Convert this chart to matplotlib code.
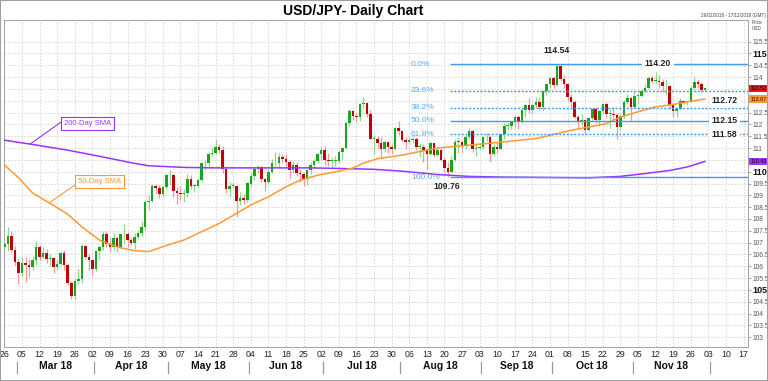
import matplotlib
matplotlib.use("Agg")
import matplotlib.pyplot as plt
import matplotlib.transforms as mtransforms
from matplotlib.lines import Line2D
from matplotlib.patches import Rectangle
import numpy as np

plt.rcParams['font.family'] = ['Liberation Sans', 'DejaVu Sans']

# daily candles, 26 Feb 2018 .. 30 Nov 2018 (index 0 = 26 Feb)
first_open = 106.80
closes = [
    106.95, 107.28, 106.70, 106.20, 105.72,
    106.15, 106.05, 105.95, 106.25, 106.80,
    106.40, 106.55, 106.30, 106.35, 105.95,
    106.10, 106.55, 106.05, 105.28, 104.76,
    105.40, 105.45, 106.85, 106.40, 106.25,
    105.90, 106.65, 106.80, 107.35, 106.95,
    106.80, 107.20, 106.80, 107.35, 107.35,
    107.10, 107.00, 107.25, 107.40, 107.65,
    108.70, 108.75, 109.40, 109.30, 109.05,
    109.35, 109.85, 109.85, 109.20, 109.10,
    109.05, 109.10, 109.70, 109.40, 109.40,
    109.65, 110.35, 110.35, 110.75, 110.80,
    111.05, 110.90, 110.10, 109.25, 109.40,
    109.40, 108.75, 108.90, 108.80, 109.50,
    109.80, 110.10, 110.20, 109.70, 109.55,
    110.00, 110.35, 110.35, 110.60, 110.55,
    110.40, 110.05, 110.30, 109.95, 109.90,
    109.70, 110.05, 110.30, 110.45, 110.75,
    110.90, 110.50, 110.45, 110.45, 110.45,
    110.85, 111.00, 112.05, 112.55, 112.35,
    112.30, 112.85, 112.90, 112.45, 111.40,
    111.40, 111.20, 110.95, 111.25, 111.05,
    110.95, 111.85, 111.70, 111.35, 111.25,
    111.35, 111.40, 111.05, 111.05, 110.90,
    110.75, 111.20, 110.70, 110.90, 110.50,
    110.15, 110.00, 110.50, 111.25, 111.25,
    111.10, 111.45, 111.70, 110.95, 111.00,
    111.05, 111.45, 111.45, 110.75, 111.05,
    110.95, 111.60, 111.95, 111.95, 112.10,
    112.30, 112.10, 112.60, 112.80, 112.60,
    112.80, 112.95, 112.75, 113.40, 113.70,
    113.95, 113.65, 114.45, 113.90, 113.70,
    113.15, 112.95, 112.30, 112.15, 112.20,
    111.75, 112.25, 112.65, 112.20, 112.55,
    112.85, 112.45, 112.45, 112.40, 111.90,
    112.35, 112.95, 113.10, 112.75, 113.20,
    113.20, 113.40, 113.55, 113.95, 113.85,
    113.85, 113.80, 113.60, 113.60, 112.80,
    112.55, 112.65, 113.00, 112.95, 112.95,
    113.55, 113.80, 113.70, 113.45, 113.52,
]
highs = [
    107.10, 107.65, 107.50, 106.85, 106.30,
    106.40, 106.40, 106.30, 106.45, 107.05,
    106.90, 106.80, 106.75, 106.50, 106.40,
    106.25, 106.60, 106.70, 106.10, 105.40,
    105.50, 105.90, 106.95, 106.90, 106.50,
    106.30, 106.70, 106.85, 107.50, 107.50,
    107.25, 107.40, 107.25, 107.40, 107.80,
    107.45, 107.20, 107.40, 107.55, 107.90,
    108.80, 109.00, 109.50, 109.50, 109.45,
    109.45, 109.90, 110.05, 109.90, 109.35,
    109.40, 109.25, 109.90, 109.85, 109.50,
    109.75, 110.40, 110.50, 110.85, 111.05,
    111.40, 111.15, 111.10, 110.25, 109.55,
    109.55, 109.45, 109.15, 109.05, 109.55,
    109.95, 110.20, 110.30, 110.25, 109.75,
    110.10, 110.55, 110.85, 110.80, 110.75,
    110.75, 110.50, 110.45, 110.40, 110.10,
    109.95, 110.10, 110.40, 110.55, 110.80,
    111.05, 111.10, 110.80, 110.60, 110.65,
    110.90, 111.05, 112.10, 112.65, 112.60,
    112.50, 112.90, 113.15, 112.95, 112.60,
    111.55, 111.50, 111.45, 111.30, 111.20,
    111.15, 111.90, 112.15, 111.75, 111.45,
    111.45, 111.50, 111.45, 111.20, 111.15,
    110.95, 111.25, 111.20, 111.00, 110.95,
    110.60, 110.40, 110.65, 111.40, 111.45,
    111.30, 111.55, 111.85, 111.80, 111.20,
    111.20, 111.50, 111.65, 111.55, 111.15,
    111.20, 111.65, 112.05, 112.10, 112.15,
    112.40, 112.40, 112.65, 112.85, 113.10,
    112.85, 113.15, 113.15, 113.45, 113.75,
    113.95, 114.05, 114.54, 114.50, 114.10,
    113.75, 113.30, 113.05, 112.40, 112.45,
    112.20, 112.30, 112.70, 112.75, 112.60,
    112.85, 112.95, 112.65, 112.75, 112.50,
    112.45, 113.05, 113.30, 113.15, 113.40,
    113.30, 113.50, 113.70, 114.05, 114.10,
    114.20, 114.10, 113.90, 113.90, 113.65,
    112.80, 112.75, 113.10, 113.05, 113.00,
    113.60, 114.00, 113.90, 113.80, 113.55,
]
lows = [
    106.55, 106.65, 106.60, 106.05, 105.25,
    105.60, 105.35, 105.55, 105.85, 106.05,
    106.25, 106.35, 106.15, 106.00, 105.70,
    105.85, 106.05, 105.85, 105.20, 104.63,
    104.63, 105.25, 105.30, 106.30, 105.85,
    105.65, 105.80, 106.30, 106.70, 106.80,
    106.60, 106.70, 106.60, 106.75, 107.00,
    106.80, 106.90, 106.75, 107.15, 107.30,
    107.55, 108.40, 108.70, 109.10, 108.90,
    108.95, 109.25, 109.45, 108.95, 108.65,
    108.80, 108.70, 108.95, 109.25, 109.15,
    109.35, 109.60, 110.05, 110.25, 110.65,
    110.75, 110.80, 109.95, 109.10, 108.95,
    109.30, 108.10, 108.60, 108.65, 108.70,
    109.35, 109.65, 109.95, 109.55, 109.20,
    109.50, 109.95, 110.25, 110.20, 110.35,
    110.25, 109.70, 109.95, 109.80, 109.55,
    109.40, 109.45, 109.90, 110.15, 110.35,
    110.50, 110.30, 110.25, 110.20, 110.25,
    110.35, 110.55, 110.95, 111.95, 112.20,
    112.10, 112.15, 112.70, 112.30, 111.40,
    110.75, 111.00, 110.60, 110.85, 110.80,
    110.75, 110.90, 111.55, 111.25, 110.95,
    111.15, 111.20, 110.90, 110.60, 110.40,
    110.10, 110.70, 110.60, 110.65, 110.45,
    110.00, 109.76, 110.00, 110.45, 110.80,
    110.85, 110.95, 111.40, 110.85, 110.65,
    110.95, 110.95, 111.30, 110.40, 110.70,
    110.80, 110.90, 111.40, 111.75, 111.80,
    111.85, 111.80, 112.05, 112.30, 112.50,
    112.45, 112.70, 112.60, 112.55, 113.25,
    113.55, 113.55, 113.60, 113.85, 113.55,
    113.05, 112.75, 112.25, 111.85, 111.95,
    111.60, 111.70, 112.15, 112.05, 111.95,
    112.45, 112.25, 111.85, 112.10, 111.38,
    111.75, 112.25, 112.85, 112.15, 112.70,
    112.85, 113.15, 113.35, 113.50, 113.75,
    113.70, 113.55, 113.35, 113.25, 112.65,
    112.30, 112.30, 112.60, 112.85, 112.80,
    112.95, 113.45, 113.55, 113.35, 113.40,
]

# moving averages (candle index, value)
sma50_idx = [0, 4, 8, 13, 18, 22, 27, 32, 37, 41, 46, 51, 56, 61, 66, 70, 75, 80,
             84, 89, 94, 99, 102, 106, 113, 123, 132, 142, 151, 156, 161, 166,
             171, 175, 180, 185, 190, 194, 199]
sma50_val = [110.28, 109.75, 109.10, 108.66, 108.20, 107.67, 107.11, 106.82, 106.66,
             106.62, 106.88, 107.11, 107.46, 107.81, 108.24, 108.59, 108.94, 109.36,
             109.64, 109.85, 109.99, 110.15, 110.36, 110.55, 110.70, 111.00, 111.12,
             111.26, 111.40, 111.57, 111.75, 111.89, 112.03, 112.31, 112.53, 112.74,
             112.84, 112.95, 113.07]
sma200_idx = [0, 8, 18, 27, 37, 41, 51, 60, 70, 87, 94, 105, 113, 123, 132, 142, 151,
              158, 166, 175, 182, 189, 194, 199]
sma200_val = [111.33, 111.15, 110.91, 110.65, 110.35, 110.25, 110.18, 110.16, 110.16,
              110.16, 110.14, 110.10, 110.02, 109.88, 109.80, 109.77, 109.76, 109.75,
              109.74, 109.80, 109.92, 110.05, 110.20, 110.43]

fib_levels = [114.54, 113.41, 112.71, 112.15, 111.58, 109.76]
fib_names = ['0.0%', '23.6%', '38.2%', '50.0%', '61.8%', '100.0%']
fib_solid = [True, False, False, True, False, True]

day_labels = ['26', '05', '12', '19', '26', '02', '09', '16', '23', '30', '07', '14',
              '21', '28', '04', '11', '18', '25', '02', '09', '16', '23', '30', '06',
              '13', '20', '27', '03', '10', '17', '24', '01', '08', '15', '22', '29',
              '05', '12', '19', '26', '03', '10', '17']
month_names = ['Mar 18', 'Apr 18', 'May 18', 'Jun 18', 'Jul 18', 'Aug 18',
               'Sep 18', 'Oct 18', 'Nov 18']
month_starts = [3, 25, 46, 69, 90, 112, 135, 155, 178, 200]

price_ticks = np.arange(103, 115.6, 0.5)
tag_values = [113.52, 113.07, 110.43]
tag_colors = ['#e01818', '#ff9933', '#9933ff']

# ---------------------------------------------------------------
fig = plt.figure(figsize=(7.68, 3.81), dpi=100)
W, H = 768, 381
ax = fig.add_axes([4 / W, 1 - 347 / H, 744 / W, 327 / H])
ax.set_xlim(-0.11, 211.25)
ax.set_ylim(102.59, 116.41)

idx = np.arange(len(closes))
c = np.array(closes)
o = np.array([first_open] + closes[:-1])
up = c >= o
body_lo = np.minimum(o, c)
body_h = np.maximum(np.abs(c - o), 0.03)
body_col = np.where(up, '#1aa61a', '#c0000a')
wick_col = np.where(up, '#8fd68f', '#f29a9a')

ax.vlines(idx, lows, highs, colors=wick_col, lw=0.9, zorder=2)
ax.bar(idx, body_h, bottom=body_lo, width=0.72, color=body_col, zorder=3)

ax.plot(sma200_idx, sma200_val, color='#9933ff', lw=1.1, zorder=4)
ax.plot(sma50_idx, sma50_val, color='#ff9933', lw=1.1, zorder=4)

# fibonacci retracement
fib_col = '#3b9cf2'
for lvl, name, solid in zip(fib_levels, fib_names, fib_solid):
    ax.hlines(lvl, 126.5, 211.25, colors=fib_col, lw=1.0,
              linestyles='-' if solid else (0, (1.5, 1.2)), zorder=5)
    ax.text(115.5, lvl, name, color='#5aaaf0', fontsize=6, va='center',
            ha='left', zorder=6)

lab_kw = dict(fontsize=6.2, fontweight='bold', color='#222222', va='center',
              ha='center', zorder=7)
ax.text(157, 115.14, '114.54', **lab_kw)
ax.text(185.7, 114.58, '114.20',
        bbox=dict(boxstyle='square,pad=0.35', fc='white', ec='none'), **lab_kw)
ax.text(125.7, 109.39, '109.76', **lab_kw)
for yv, txt in [(113.0, '112.72'), (112.15, '112.15'), (111.58, '111.58')]:
    ax.text(204.6, yv, txt,
            bbox=dict(boxstyle='square,pad=0.3', fc='white', ec='none'), **lab_kw)

# SMA callouts
ax.annotate('200-Day SMA', xy=(7.3, 111.17), xytext=(23.6, 112.03),
            fontsize=5.5, color='#9933ff', ha='center', va='center',
            bbox=dict(boxstyle='square,pad=0.35', fc='white', ec='#9933ff', lw=0.8),
            arrowprops=dict(arrowstyle='-', color='#9933ff', lw=0.8,
                            relpos=(0, 1), shrinkA=0, shrinkB=0), zorder=8)
ax.annotate('50-Day SMA', xy=(12.7, 108.68), xytext=(27, 109.58),
            fontsize=5.5, color='#ff9933', ha='center', va='center',
            bbox=dict(boxstyle='square,pad=0.35', fc='white', ec='#ff9933', lw=0.8),
            arrowprops=dict(arrowstyle='-', color='#ff9933', lw=0.8,
                            relpos=(0, 0.3), shrinkA=0, shrinkB=0), zorder=8)

# grid and axes
mondays = np.arange(0, 211, 5)
ax.set_xticks(mondays)
ax.set_xticklabels(day_labels)
ax.set_yticks(price_ticks)
ax.yaxis.tick_right()
ax.grid(True, color='#d2d2d2', lw=0.6, ls=(0, (2, 2)), zorder=0)
ax.set_axisbelow(True)
ax.tick_params(axis='x', length=0, pad=2.5, labelsize=6.3, labelcolor='#222222')
ax.tick_params(axis='y', length=2.5, width=0.6, color='#999999', pad=1,
               labelsize=4.8, labelcolor='#555555')
# labels hidden behind the value tags are left blank
ylabels = []
for v in price_ticks:
    hidden = any(abs(v - tv) < 0.3 for tv in tag_values)
    ylabels.append('' if hidden else f'{v:g}')
ax.set_yticklabels(ylabels)
for t, v in zip(ax.get_yticklabels(), price_ticks):
    if v in (105, 110, 115):
        t.set_fontweight('bold')
        t.set_fontsize(6.5)
        t.set_color('#111111')
for s in ax.spines.values():
    s.set_color('#a8a8a8')
    s.set_linewidth(0.8)

# month row
trans = mtransforms.blended_transform_factory(ax.transData, ax.transAxes)
for m in month_starts:
    ax.add_line(Line2D([m + 0.5, m + 0.5], [-0.046, -0.08], transform=trans,
                       color='#9a9a9a', lw=0.9, clip_on=False))
for k, name in enumerate(month_names):
    xm = (month_starts[k] + month_starts[k + 1]) / 2 + 0.5
    ax.text(xm, -0.058, name, transform=trans, ha='center', va='center',
            fontsize=7.5, fontweight='bold', color='#111111')

# current value tags on the price axis
ytrans = mtransforms.blended_transform_factory(ax.transAxes, ax.transData)
for yv, fc in zip(tag_values, tag_colors):
    ax.text(1.003, yv, f'{yv:.2f}', transform=ytrans, ha='left', va='center',
            fontsize=3.9, color='#220000', clip_on=False, zorder=9,
            bbox=dict(boxstyle='square,pad=0.2', fc=fc, ec='none'))

# header texts
fig.text(353 / W, 1 - 11 / H, 'USD/JPY- Daily Chart', ha='center', va='center',
         fontsize=10, fontweight='bold')
fig.text(766 / W, 1 - 16 / H, '26/02/2018 - 17/12/2018 (GMT)', ha='right',
         va='center', fontsize=3.3, color='#444444')
fig.text(752 / W, 1 - 22 / H, 'Price', ha='left', va='center', fontsize=3.3,
         color='#444444')
fig.text(752 / W, 1 - 29 / H, 'USD', ha='left', va='center', fontsize=3.3,
         color='#444444')

fig.patches.append(Rectangle((0, 0), 1, 1, transform=fig.transFigure, fill=False,
                             ec='#a0a0a0', lw=1.5))

fig.savefig('out.png', dpi=100)
